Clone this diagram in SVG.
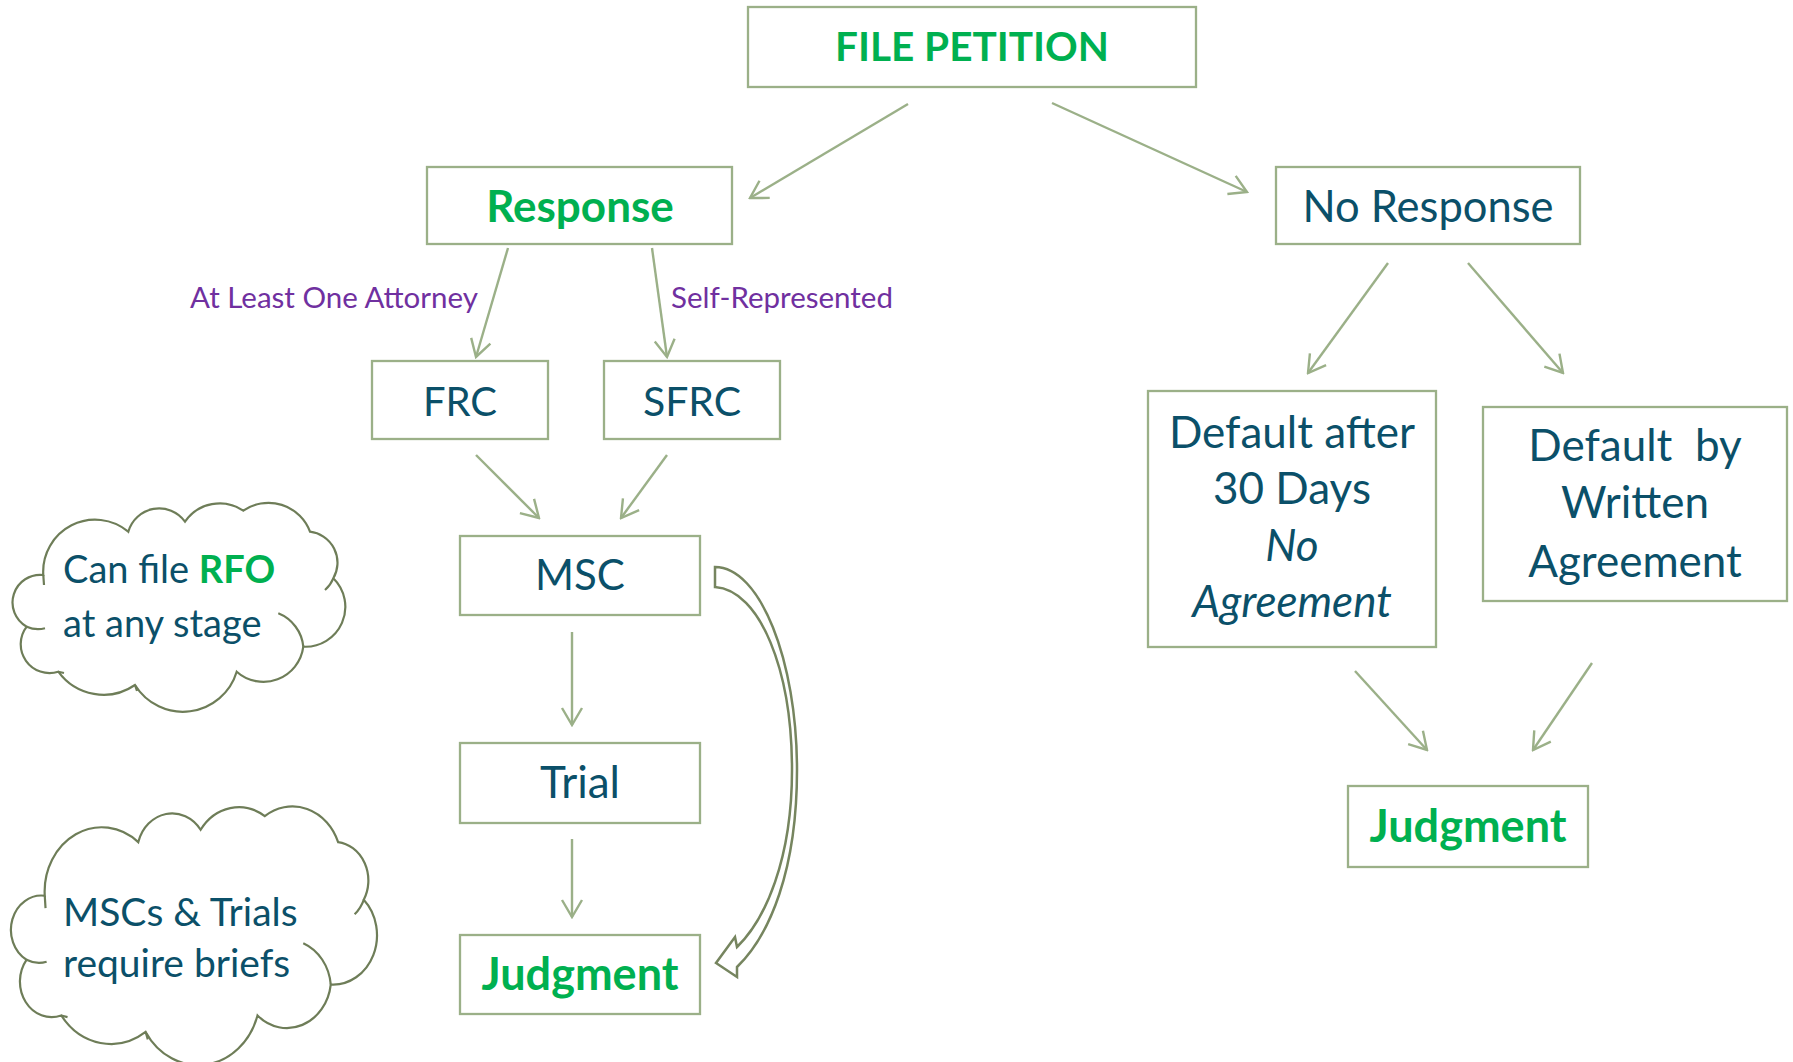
<svg xmlns="http://www.w3.org/2000/svg" width="1793" height="1062" viewBox="0 0 1793 1062">
<defs>
<style>
.box{fill:#ffffff;stroke:#9bb088;stroke-width:2.3}
.conn{fill:none;stroke:#9bb088;stroke-width:2.4;marker-end:url(#arr)}
.t{font-family:Lato,"Open Sans","Liberation Sans",sans-serif;fill:#0b5069;text-anchor:middle}
.s{text-anchor:start}
.g{fill:#00b050;font-weight:bold}
.lbl{font-family:Lato,"Open Sans","Liberation Sans",sans-serif;fill:#7030a0;font-size:29.5px;text-anchor:middle}
.cloud{fill:#ffffff;stroke:#6e7d58;stroke-width:2.2}
.tick{fill:none;stroke:#6e7d58;stroke-width:2.2}
</style>
<marker id="arr" viewBox="-20 -12 22 24" refX="0" refY="0" markerWidth="22" markerHeight="24" markerUnits="userSpaceOnUse" orient="auto">
<path d="M-17,-10 L0,0 L-17,10" fill="none" stroke="#9bb088" stroke-width="2.4"/>
</marker>
</defs>
<rect width="1793" height="1062" fill="#ffffff"/>

<g id="connectors">
<line class="conn" x1="908" y1="104" x2="750" y2="198"/>
<line class="conn" x1="1052" y1="103" x2="1247" y2="192"/>
<line class="conn" x1="508" y1="248" x2="476" y2="357"/>
<line class="conn" x1="652" y1="248" x2="667" y2="357"/>
<line class="conn" x1="476" y1="455" x2="539" y2="518"/>
<line class="conn" x1="667" y1="455" x2="621" y2="518"/>
<line class="conn" x1="572" y1="632" x2="572" y2="725"/>
<line class="conn" x1="572" y1="839" x2="572" y2="917"/>
<line class="conn" x1="1388" y1="263" x2="1308" y2="373"/>
<line class="conn" x1="1468" y1="263" x2="1563" y2="373"/>
<line class="conn" x1="1355" y1="671" x2="1427" y2="750"/>
<line class="conn" x1="1592" y1="663" x2="1533" y2="750"/>
<path id="curved-arrow" d="M715,567 C760,567 797,660 797,770 C797,870 770,935 737,967 L737,977 L716,963 L735,937 L737,947 C765,920 792,860 792,770 C792,670 760,590 715,587 Z" fill="#ffffff" stroke="#76855f" stroke-width="2.5" stroke-linejoin="miter"/>
</g>

<g id="file-petition">
<rect class="box" x="748" y="7" width="448" height="80"/>
<text class="t g" x="972" y="61" font-size="40.5">FILE PETITION</text>
</g>
<g id="response">
<rect class="box" x="427" y="167" width="305" height="77"/>
<text class="t g" x="580" y="222" font-size="44">Response</text>
</g>
<g id="no-response">
<rect class="box" x="1276" y="167" width="304" height="77"/>
<text class="t" x="1428" y="222" font-size="43.5">No Response</text>
</g>
<g id="label-attorney">
<text class="lbl" x="334" y="308">At Least One Attorney</text>
</g>
<g id="label-self">
<text class="lbl" x="782" y="308">Self-Represented</text>
</g>
<g id="frc">
<rect class="box" x="372" y="361" width="176" height="78"/>
<text class="t" x="460" y="416" font-size="40">FRC</text>
</g>
<g id="sfrc">
<rect class="box" x="604" y="361" width="176" height="78"/>
<text class="t" x="692" y="416" font-size="41">SFRC</text>
</g>
<g id="msc">
<rect class="box" x="460" y="536" width="240" height="79"/>
<text class="t" x="580" y="590" font-size="42">MSC</text>
</g>
<g id="trial">
<rect class="box" x="460" y="743" width="240" height="80"/>
<text class="t" x="580" y="798" font-size="44">Trial</text>
</g>
<g id="judgment-left">
<rect class="box" x="460" y="935" width="240" height="79"/>
<text class="t g" x="580" y="990" font-size="45">Judgment</text>
</g>
<g id="default-after">
<rect class="box" x="1148" y="391" width="288" height="256"/>
<text class="t" x="1292" y="448" font-size="44">Default after</text>
<text class="t" x="1292" y="504" font-size="44">30 Days</text>
<text class="t" x="1292" y="561" font-size="44" font-style="italic">No</text>
<text class="t" x="1292" y="617" font-size="44" font-style="italic">Agreement</text>
</g>
<g id="default-by">
<rect class="box" x="1483" y="407" width="304" height="194"/>
<text class="t" x="1635" y="461" font-size="44" xml:space="preserve">Default  by</text>
<text class="t" x="1635" y="518" font-size="44">Written</text>
<text class="t" x="1635" y="577" font-size="44">Agreement</text>
</g>
<g id="judgment-right">
<rect class="box" x="1348" y="786" width="240" height="81"/>
<text class="t g" x="1468" y="842" font-size="45">Judgment</text>
</g>

<g id="cloud-rfo">
<path class="cloud" d="M43.3,575 A27.7,27.7 0 0 0 26.7,626.7 A28.8,28.8 0 0 0 58.3,671.7 A55.8,55.8 0 0 0 135,685 A56.2,56.2 0 0 0 236.7,671.7 A40.2,40.2 0 0 0 303.3,646.7 A39.9,39.9 0 0 0 333.3,578.3 A31.2,31.2 0 0 0 310,531.7 A44.3,44.3 0 0 0 243.3,510.7 A42.1,42.1 0 0 0 185,521.7 A32,32 0 0 0 128.3,531.7 A51.9,51.9 0 0 0 43.3,575 Z"/>
<path class="tick" d="M303.3,646.7 A40.2,40.2 0 0 0 278.3,613.3 M26.7,626.7 A27.7,27.7 0 0 0 45,628.3 M325,590 A31.2,31.2 0 0 0 333.3,578.3 M58.3,671.7 L64,673 M135,685 L137,691 M43.3,575 L44,585"/>
<text class="t s" x="63" y="583" font-size="38">Can file <tspan class="g">RFO</tspan></text>
<text class="t s" x="63" y="637" font-size="38">at any stage</text>
</g>
<g id="cloud-briefs">
<g transform="translate(-2.87,183.9) scale(1.1,1.238)">
<path class="cloud" vector-effect="non-scaling-stroke" d="M43.3,575 A27.7,27.7 0 0 0 26.7,626.7 A28.8,28.8 0 0 0 58.3,671.7 A55.8,55.8 0 0 0 135,685 A56.2,56.2 0 0 0 236.7,671.7 A40.2,40.2 0 0 0 303.3,646.7 A39.9,39.9 0 0 0 333.3,578.3 A31.2,31.2 0 0 0 310,531.7 A44.3,44.3 0 0 0 243.3,510.7 A42.1,42.1 0 0 0 185,521.7 A32,32 0 0 0 128.3,531.7 A51.9,51.9 0 0 0 43.3,575 Z"/>
<path class="tick" vector-effect="non-scaling-stroke" d="M303.3,646.7 A40.2,40.2 0 0 0 278.3,613.3 M26.7,626.7 A27.7,27.7 0 0 0 45,628.3 M325,590 A31.2,31.2 0 0 0 333.3,578.3 M58.3,671.7 L64,673 M135,685 L137,691 M43.3,575 L44,585"/>
</g>
<text class="t s" x="63" y="926" font-size="39">MSCs &amp; Trials</text>
<text class="t s" x="63" y="977" font-size="39">require briefs</text>
</g>
</svg>
